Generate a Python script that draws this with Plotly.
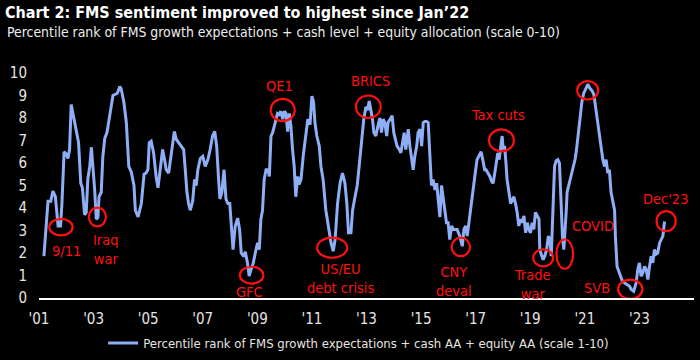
import plotly.graph_objects as go

# ---- data (decimal year, value) ----
dates = [
    2001.18, 2001.33, 2001.43, 2001.51, 2001.60, 2001.70, 2001.79, 2001.84, 2001.92, 2002.00,
    2002.06, 2002.12, 2002.18, 2002.28, 2002.37, 2002.45, 2002.53, 2002.59, 2002.67, 2002.73,
    2002.79, 2002.86, 2002.92, 2002.98, 2003.04, 2003.10, 2003.16, 2003.20, 2003.28, 2003.34,
    2003.41, 2003.49, 2003.56, 2003.63, 2003.71, 2003.79, 2003.87, 2003.96, 2004.01, 2004.11,
    2004.20, 2004.29, 2004.38, 2004.48, 2004.53, 2004.63, 2004.75, 2004.85, 2004.92, 2004.99,
    2005.04, 2005.11, 2005.20, 2005.29, 2005.36, 2005.44, 2005.53, 2005.60, 2005.66, 2005.75,
    2005.81, 2005.90, 2005.96, 2006.03, 2006.12, 2006.21, 2006.30, 2006.36, 2006.42, 2006.48,
    2006.54, 2006.63, 2006.70, 2006.76, 2006.82, 2006.91, 2007.00, 2007.09, 2007.19, 2007.27,
    2007.36, 2007.44, 2007.51, 2007.58, 2007.63, 2007.70, 2007.78, 2007.85, 2007.92, 2007.99,
    2008.04, 2008.11, 2008.19, 2008.28, 2008.35, 2008.41, 2008.50, 2008.56, 2008.64, 2008.70,
    2008.77, 2008.85, 2008.95, 2009.01, 2009.07, 2009.13, 2009.19, 2009.25, 2009.32, 2009.39,
    2009.44, 2009.50, 2009.56, 2009.62, 2009.68, 2009.74, 2009.80, 2009.86, 2009.93, 2009.99,
    2010.05, 2010.11, 2010.17, 2010.23, 2010.29, 2010.35, 2010.41, 2010.48, 2010.53, 2010.60,
    2010.68, 2010.78, 2010.85, 2010.93, 2011.00, 2011.06, 2011.11, 2011.18, 2011.27, 2011.33,
    2011.41, 2011.51, 2011.61, 2011.70, 2011.78, 2011.85, 2011.94, 2012.03, 2012.12, 2012.21,
    2012.28, 2012.34, 2012.43, 2012.49, 2012.58, 2012.66, 2012.73, 2012.82, 2012.90, 2012.98,
    2013.04, 2013.10, 2013.16, 2013.22, 2013.27, 2013.34, 2013.42, 2013.49, 2013.55, 2013.61,
    2013.67, 2013.74, 2013.79, 2013.88, 2013.94, 2014.00, 2014.07, 2014.12, 2014.20, 2014.26,
    2014.32, 2014.38, 2014.44, 2014.53, 2014.59, 2014.65, 2014.71, 2014.77, 2014.84, 2014.89,
    2014.96, 2015.02, 2015.08, 2015.14, 2015.20, 2015.26, 2015.32, 2015.38, 2015.44, 2015.51,
    2015.57, 2015.63, 2015.69, 2015.75, 2015.81, 2015.87, 2015.93, 2015.99, 2016.05, 2016.12,
    2016.18, 2016.27, 2016.32, 2016.42, 2016.51, 2016.57, 2016.63, 2016.69, 2016.75, 2016.81,
    2016.87, 2016.93, 2017.00, 2017.05, 2017.14, 2017.20, 2017.26, 2017.33, 2017.38, 2017.45,
    2017.52, 2017.58, 2017.64, 2017.70, 2017.77, 2017.81, 2017.86, 2017.91, 2017.97, 2018.01,
    2018.06, 2018.11, 2018.15, 2018.22, 2018.28, 2018.34, 2018.40, 2018.46, 2018.52, 2018.58,
    2018.64, 2018.70, 2018.77, 2018.83, 2018.89, 2018.95, 2019.01, 2019.07, 2019.13, 2019.19,
    2019.25, 2019.32, 2019.35, 2019.41, 2019.47, 2019.53, 2019.60, 2019.66, 2019.72, 2019.77,
    2019.83, 2019.89, 2019.95, 2020.01, 2020.07, 2020.13, 2020.18, 2020.23, 2020.28, 2020.32,
    2020.35, 2020.41, 2020.48, 2020.54, 2020.60, 2020.65, 2020.71, 2020.77, 2020.83, 2020.89,
    2020.96, 2021.05, 2021.11, 2021.17, 2021.27, 2021.33, 2021.39, 2021.45, 2021.51, 2021.58,
    2021.66, 2021.72, 2021.78, 2021.84, 2021.90, 2021.96, 2022.03, 2022.09, 2022.12, 2022.18,
    2022.27, 2022.36, 2022.45, 2022.55, 2022.64, 2022.70, 2022.79, 2022.88, 2022.94, 2023.00,
    2023.06, 2023.12, 2023.19, 2023.25, 2023.31, 2023.37, 2023.43, 2023.49, 2023.55, 2023.61,
    2023.67, 2023.74, 2023.80, 2023.86, 2023.92,
]
sentiment = [
    1.86, 4.3, 4.3, 4.75, 4.5, 3.2, 3.2, 4.2, 6.5, 6.4,
    6.2, 6.6, 8.6, 7.9, 7.35, 6.9, 5.1, 4.9, 3.7, 3.8,
    5.3, 5.85, 6.7, 5.85, 4.8, 3.5, 3.6, 4.5, 4.7, 6.3,
    7.1, 7.35, 7.8, 8.4, 9.0, 9.05, 9.1, 9.4, 9.3, 8.7,
    7.8, 5.85, 5.6, 5.0, 3.9, 3.6, 4.2, 5.5, 5.55, 5.7,
    6.9, 6.97, 6.45, 5.4, 4.9, 5.7, 6.6, 6.15, 5.7, 5.55,
    6.15, 7.05, 7.4, 7.05, 6.9, 6.75, 6.6, 5.7, 4.7, 4.2,
    3.9, 4.3, 5.27, 5.0, 5.7, 6.2, 6.3, 5.85, 6.15, 6.6,
    7.2, 7.4, 6.75, 5.27, 4.4, 4.7, 5.7, 4.4, 4.2, 4.2,
    3.35, 2.15, 3.2, 3.55, 3.05, 2.0, 1.85, 2.05, 1.55, 0.97,
    1.27, 1.55, 2.15, 2.45, 2.15, 3.5, 3.9, 5.27, 5.7, 5.7,
    5.4, 7.2, 7.35, 7.65, 7.85, 8.2, 8.15, 8.3, 7.95, 8.3,
    8.2, 7.4, 8.2, 7.65, 6.6, 5.85, 4.5, 5.4, 5.05, 5.27,
    6.3, 7.2, 7.95, 7.7, 8.97, 8.7, 7.8, 7.2, 6.75, 5.85,
    5.27, 3.9, 3.05, 2.45, 2.08, 2.6, 4.2, 5.1, 5.55, 5.1,
    4.2, 2.9, 2.9, 3.9, 4.5, 5.0, 5.85, 6.9, 7.95, 8.5,
    8.35, 8.75, 8.35, 7.95, 7.35, 7.2, 7.65, 8.0, 7.35, 7.95,
    7.8, 7.2, 7.8, 7.95, 8.1, 7.35, 6.9, 6.75, 6.6, 6.45,
    6.9, 7.35, 6.6, 7.5, 6.75, 6.3, 5.7, 6.3, 6.75, 7.35,
    7.5, 6.75, 7.8, 7.85, 7.85, 7.8, 6.3, 5.0, 5.27, 4.8,
    5.1, 4.2, 3.6, 5.0, 4.5, 3.9, 3.35, 3.35, 2.6, 3.2,
    3.05, 3.05, 3.05, 2.75, 2.3, 3.05, 3.2, 2.75, 3.35, 3.9,
    4.5, 5.27, 5.7, 6.15, 6.4, 6.5, 6.15, 5.7, 5.7, 5.55,
    5.4, 5.2, 5.1, 5.55, 6.15, 6.45, 6.15, 6.75, 7.2, 6.6,
    6.75, 6.0, 5.27, 4.7, 4.2, 4.35, 4.5, 4.2, 3.8, 3.2,
    3.5, 3.35, 3.65, 2.9, 3.35, 3.05, 2.9, 3.35, 3.05, 3.8,
    3.65, 3.5, 2.15, 1.86, 1.7, 1.86, 2.15, 2.75, 2.6, 1.86,
    4.2, 5.85, 6.1, 6.15, 6.0, 4.2, 2.75, 2.15, 2.9, 3.9,
    4.7, 5.0, 5.27, 5.55, 5.85, 6.2, 6.75, 7.35, 8.1, 8.7,
    9.1, 9.35, 9.5, 9.35, 9.2, 9.05, 8.5, 7.95, 7.35, 6.75,
    6.15, 5.85, 6.15, 5.55, 5.7, 4.7, 4.2, 3.9, 2.75, 1.4,
    1.1, 0.8, 0.67, 0.6, 0.52, 0.38, 0.3, 0.67, 1.27, 1.56,
    0.97, 1.1, 1.4, 1.27, 0.82, 1.4, 1.86, 1.56, 2.15, 1.95,
    2.0, 2.45, 2.6, 2.75, 3.4,
]
tick_years = list(range(2001, 2024, 2))
tick_labels = ["'%02d" % (y % 100) for y in tick_years]
y_ticks = list(range(0, 11))

series_name = "Percentile rank of FMS growth expectations + cash AA + equity AA (scale 1-10)"

# events: label, ellipse box (x0, x1, y0, y1), label position (x, y)
events = [
    ("9/11", (2001.38, 2002.23, 2.78, 3.52), (2001.99, 2.09)),
    ("Iraq<br>war", (2002.83, 2003.45, 3.18, 4.02), (2003.45, 2.16)),
    ("GFC", (2008.36, 2009.22, 0.64, 1.39), (2008.73, 0.26)),
    ("QE1", (2009.49, 2010.37, 7.86, 8.85), (2009.82, 9.42)),
    ("US/EU<br>debt crisis", (2011.19, 2012.29, 1.79, 2.68), (2012.04, 0.87)),
    ("BRICS", (2012.61, 2013.52, 8.0, 9.0), (2013.14, 9.66)),
    ("CNY<br>deval", (2016.12, 2016.79, 1.86, 2.68), (2016.19, 0.73)),
    ("Tax cuts", (2017.49, 2018.40, 6.52, 7.49), (2017.81, 8.13)),
    ("Trade<br>war", (2019.11, 2019.84, 1.41, 2.16), (2019.08, 0.58)),
    ("COVID", (2019.96, 2020.57, 1.30, 2.60), (2021.29, 3.18)),
    ("Blue wave", (2020.72, 2021.49, 8.82, 9.64), (2021.08, 10.22)),
    ("SVB", (2022.22, 2023.11, -0.04, 0.82), (2021.46, 0.43)),
    ("Dec'23", (2023.63, 2024.33, 2.97, 3.86), (2023.97, 4.38)),
]

FONT = "DejaVu Sans Condensed, sans-serif"
RED = "#FF1010"
LINE = "#8EAEF6"

fig = go.Figure()
fig.add_trace(go.Scatter(
    x=dates, y=sentiment, mode="lines", name=series_name,
    line=dict(color=LINE, width=3), showlegend=True,
))

shapes = []
annotations = []
for label, (x0, x1, y0, y1), (lx, ly) in events:
    shapes.append(dict(type="circle", xref="x", yref="y", x0=x0, x1=x1, y0=y0, y1=y1,
                       line=dict(color=RED, width=2.2), layer="above"))
    annotations.append(dict(text=label, x=lx, y=ly, xref="x", yref="y", showarrow=False,
                            font=dict(family=FONT, size=14.5, color=RED), align="center"))

annotations.append(dict(
    text="Percentile rank of FMS growth expectations + cash level + equity allocation (scale 0-10)",
    xref="paper", yref="paper", x=-0.052, y=1.182, xanchor="left", yanchor="middle",
    showarrow=False, font=dict(family=FONT, size=13.9, color="#EDEDED")))

fig.update_layout(
    width=700, height=360,
    paper_bgcolor="#000000", plot_bgcolor="#000000",
    margin=dict(l=39, r=6, t=73, b=62, autoexpand=False),
    title=dict(text="<b>Chart 2: FMS sentiment improved to highest since Jan\u201922</b>",
               x=0.007, xanchor="left", y=0.966, yanchor="middle",
               font=dict(family=FONT, size=16, color="#FFFFFF")),
    xaxis=dict(range=[2001, 2025], tickvals=tick_years, ticktext=tick_labels,
               showgrid=False, zeroline=False, showline=True, linecolor="#FFFFFF", linewidth=2,
               ticks="", ticklabelstandoff=6, automargin=False,
               tickfont=dict(family=FONT, size=15, color="#E8E4E0")),
    yaxis=dict(range=[0, 10], tickvals=y_ticks, showgrid=False, zeroline=False, showline=False,
               ticks="", ticklabelstandoff=11, automargin=False,
               tickfont=dict(family=FONT, size=15, color="#E8E4E0")),
    legend=dict(orientation="h", x=0.488, xanchor="center", y=-0.2, yanchor="middle",
                font=dict(family=FONT, size=13, color="#E8E4E0"), bgcolor="rgba(0,0,0,0)"),
    shapes=shapes, annotations=annotations,
    showlegend=True,
)

fig.write_html("out.html", config={"displayModeBar": False},
               post_script="document.body.style.margin='0px';document.body.style.background='#000';")
